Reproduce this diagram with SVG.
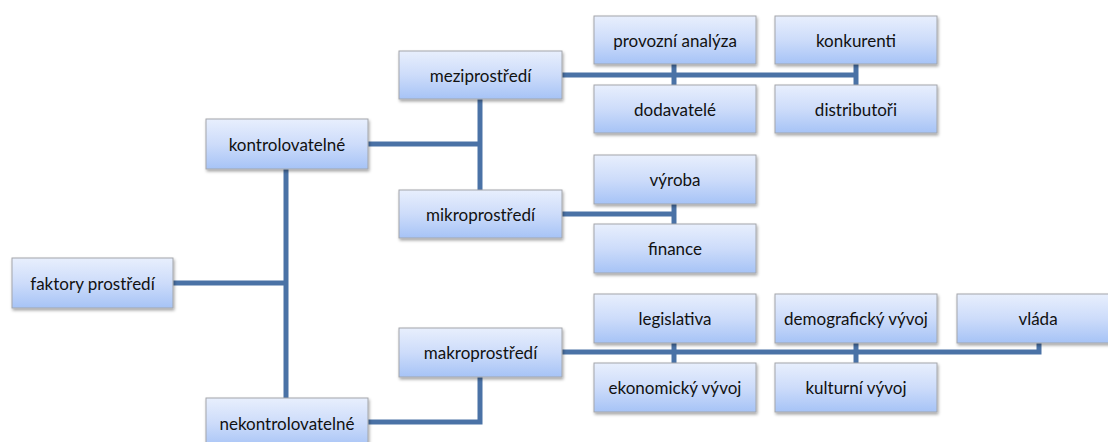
<svg xmlns="http://www.w3.org/2000/svg" width="1108" height="442" viewBox="0 0 1108 442">
<defs>
<linearGradient id="g" x1="0" y1="0" x2="0" y2="1">
<stop offset="0" stop-color="#e8effd"/>
<stop offset="0.5" stop-color="#cddcfa"/>
<stop offset="1" stop-color="#a6c3f6"/>
</linearGradient>
<filter id="sh" x="-10%" y="-20%" width="120%" height="150%">
<feDropShadow dx="1" dy="2" stdDeviation="1.5" flood-color="#000" flood-opacity="0.35"/>
</filter>
</defs>
<style>
.box{fill:url(#g);stroke:#a3a6ab;stroke-width:1;filter:url(#sh)}
.t{font-family:Lato,"Liberation Sans",sans-serif;font-size:17px;fill:#111;text-anchor:middle;dominant-baseline:central}
.c{fill:none;stroke:#4a72a6;stroke-width:5;stroke-linejoin:miter}
</style>
<rect width="1108" height="442" fill="#fff"/>
<g id="connectors">
<path class="c" d="M173 283H286"/>
<path class="c" d="M286 169V398"/>
<path class="c" d="M368 144H480"/>
<path class="c" d="M480 99V190"/>
<path class="c" d="M368 422H480V377"/>
<path class="c" d="M562 75H856"/>
<path class="c" d="M674 64V85"/>
<path class="c" d="M856 64V85"/>
<path class="c" d="M562 214H674"/>
<path class="c" d="M674 204V224"/>
<path class="c" d="M562 352H1039V343"/>
<path class="c" d="M674 343V363"/>
<path class="c" d="M856 343V363"/>
</g>
<g id="faktory"><rect class="box" x="12" y="258" width="161" height="50"/><text class="t" x="92.5" y="283">faktory prostředí</text></g>
<g id="kontrolovatelne"><rect class="box" x="206" y="119" width="162" height="50"/><text class="t" x="287" y="144">kontrolovatelné</text></g>
<g id="nekontrolovatelne"><rect class="box" x="206" y="398" width="162" height="50"/><text class="t" x="287" y="423">nekontrolovatelné</text></g>
<g id="mezi"><rect class="box" x="399" y="51" width="163" height="48"/><text class="t" x="480.5" y="75">meziprostředí</text></g>
<g id="mikro"><rect class="box" x="399" y="190" width="163" height="48"/><text class="t" x="480.5" y="214">mikroprostředí</text></g>
<g id="makro"><rect class="box" x="399" y="328" width="163" height="49"/><text class="t" x="480.5" y="352.5">makroprostředí</text></g>
<g id="provozni"><rect class="box" x="594" y="16" width="162" height="48"/><text class="t" x="675" y="40">provozní analýza</text></g>
<g id="dodavatele"><rect class="box" x="594" y="85" width="162" height="48"/><text class="t" x="675" y="109">dodavatelé</text></g>
<g id="konkurenti"><rect class="box" x="775" y="16" width="162" height="48"/><text class="t" x="856" y="40">konkurenti</text></g>
<g id="distributori"><rect class="box" x="775" y="85" width="162" height="48"/><text class="t" x="856" y="109">distributoři</text></g>
<g id="vyroba"><rect class="box" x="594" y="155" width="162" height="49"/><text class="t" x="675" y="179.5">výroba</text></g>
<g id="finance"><rect class="box" x="594" y="224" width="162" height="49"/><text class="t" x="675" y="248.5">finance</text></g>
<g id="legislativa"><rect class="box" x="594" y="294" width="162" height="49"/><text class="t" x="675" y="318.5">legislativa</text></g>
<g id="ekonomicky"><rect class="box" x="594" y="363" width="162" height="49"/><text class="t" x="675" y="387.5">ekonomický vývoj</text></g>
<g id="demograficky"><rect class="box" x="775" y="294" width="162" height="49"/><text class="t" x="856" y="318.5">demografický vývoj</text></g>
<g id="kulturni"><rect class="box" x="775" y="363" width="162" height="49"/><text class="t" x="856" y="387.5">kulturní vývoj</text></g>
<g id="vlada"><rect class="box" x="957" y="294" width="162" height="49"/><text class="t" x="1038" y="318.5">vláda</text></g>
</svg>
